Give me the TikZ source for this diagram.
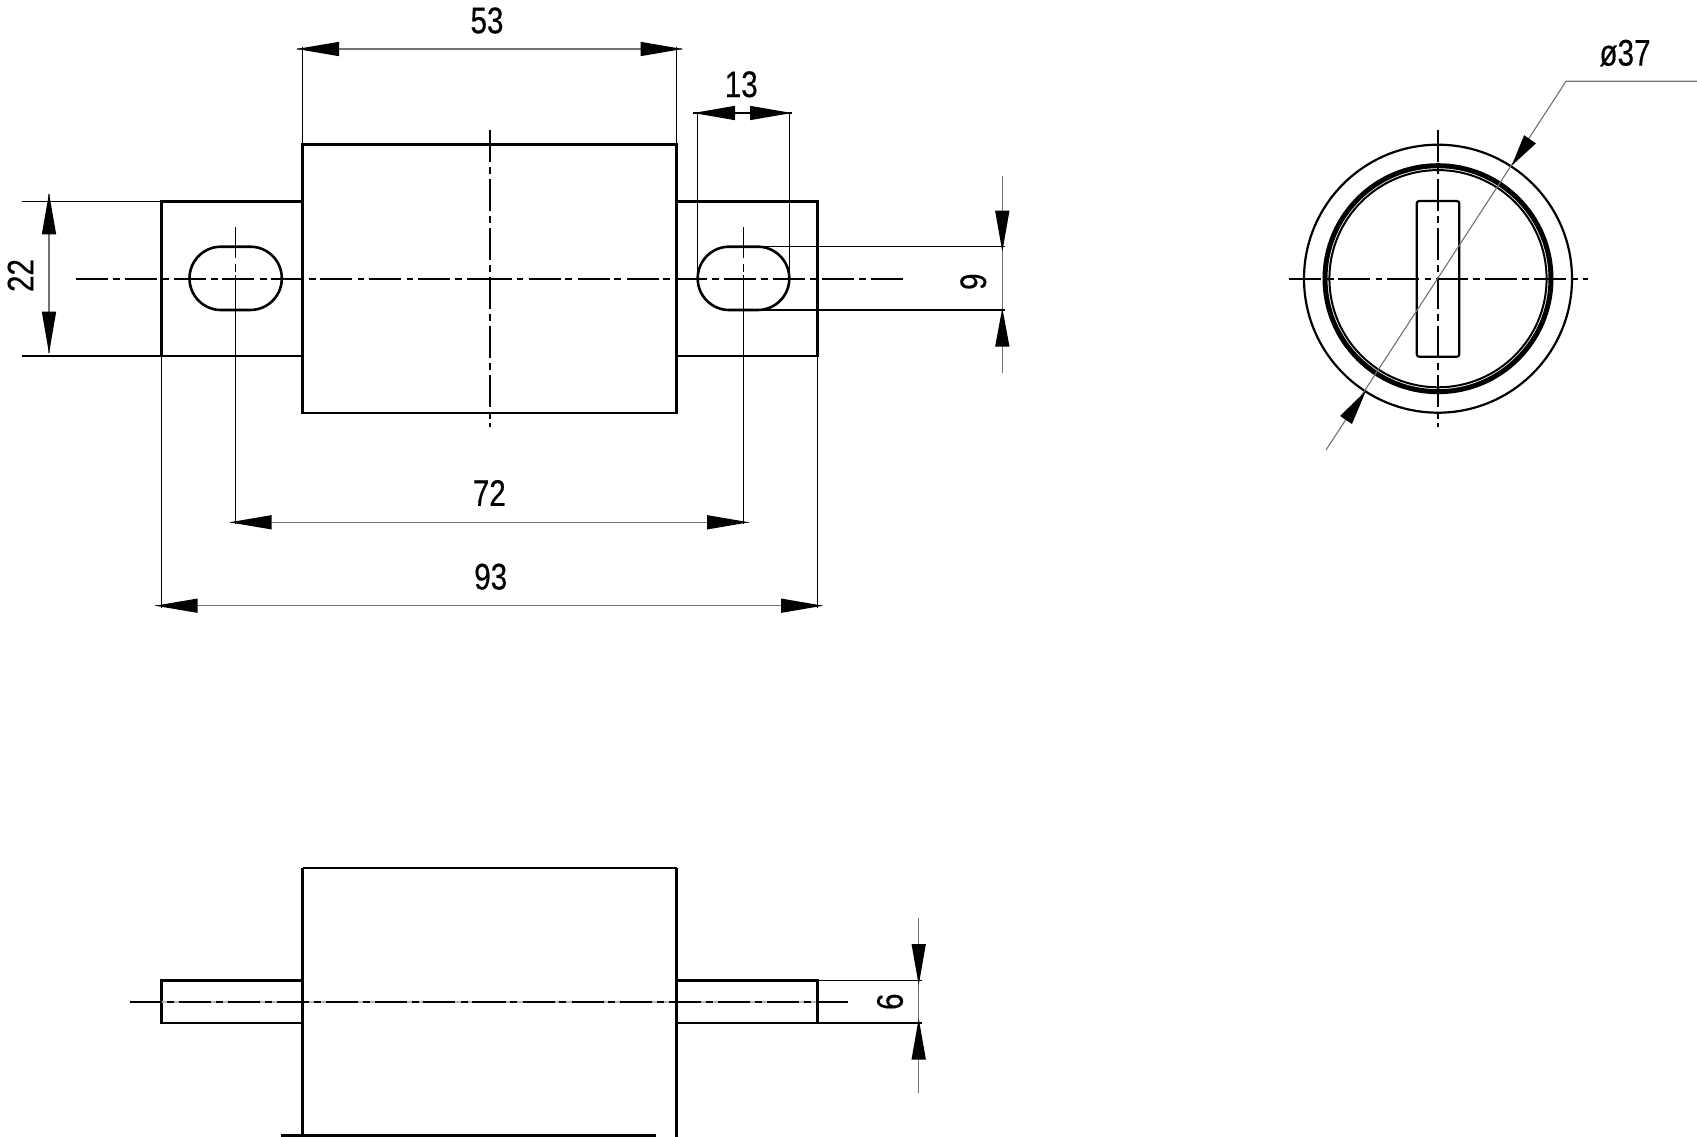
\documentclass[tikz,border=0pt]{standalone}
\usepackage{fontspec}
\setmainfont{Liberation Sans}
\newfontfamily\dimfont[FakeStretch=0.8,FakeBold=0.35]{Liberation Sans}
\usetikzlibrary{calc}
\newcommand\dimtip[2]{\fill[black] (#1) -- ($(#2)!7.2pt!90:(#1)$) -- ($(#2)!7.2pt!-90:(#1)$) -- cycle;}
\tikzset{
  outline/.style={line width=2.6pt,line join=miter},
  extline/.style={line width=1.4pt,black},
  dimline/.style={line width=1.1pt,black!55},
  centerline/.style={line width=1.6pt,dash pattern=on 32pt off 5.4pt on 6.8pt off 4.7pt},
  topcenter/.style={line width=1.8pt,dash pattern=on 32pt off 5.4pt on 6.8pt off 4.7pt},
  topunder/.style={line width=1.6pt,black!28},
  dimtext/.style={inner sep=0pt,font=\dimfont\fontsize{37}{37}\selectfont},
}
\begin{document}
\begin{tikzpicture}[x=1pt,y=-1pt]
\fill[white] (0,0) rectangle (1697,1137);
\useasboundingbox (0,0) rectangle (1697,1137);

% ---- front view: extension lines
\draw[extline] (302.7,47) -- (302.7,145);
\draw[extline] (676.7,47) -- (676.7,145);
\draw[extline] (22,201.3) -- (162,201.3);
\draw[extline] (22,356) -- (162,356);
\draw[extline] (697.7,113) -- (697.7,279);
\draw[extline] (789.3,113) -- (789.3,279);
\draw[extline] (763,246.7) -- (1005,246.7);
\draw[extline] (763,310) -- (1005,310);
\draw[extline] (161.7,356) -- (161.7,608);
\draw[extline] (817.7,356) -- (817.7,608);

% ---- front view: slot centre lines
\foreach \cx in {235.7,743.7}{
  \draw[extline] (\cx,227) -- (\cx,258);
  \draw[extline] (\cx,263.5) -- (\cx,271.5);
  \draw[extline] (\cx,275) -- (\cx,524);
}

% ---- front view: outlines
\draw[outline] (302.5,144.7) rectangle (676.7,413);
\draw[outline] (302.5,201.3) -- (161.7,201.3) -- (161.7,356) -- (302.5,356);
\draw[outline] (676.7,201.3) -- (817.7,201.3) -- (817.7,356) -- (676.7,356);
\draw[outline,rounded corners=31.5pt] (189.5,246.7) rectangle (281.8,310);
\draw[outline,rounded corners=31.5pt] (697.7,246.7) rectangle (789.3,310);

% ---- front view: centre lines (the pattern runs in from both ends)
\coordinate (midH) at (489.7,279);
\draw[centerline] (75.7,279) -- (midH);
\draw[centerline] (903,279) -- (midH);
\draw[centerline] (489.7,130) -- (489.7,427.3);

% ---- dimension lines
\draw[dimline] (297,49) -- (682,49);
\dimtip{296.7,49}{339,49} \dimtip{682.5,49}{640.5,49}
\node[dimtext] (d53) at (487,20.5) {53};

\draw[dimline] (735,113) -- (750,113);
\draw[extline] (693,113) -- (792,113);
\dimtip{693.3,113}{735,113} \dimtip{791.7,113}{750,113}
\node[dimtext] (d13) at (741.3,84.3) {13};

\draw[dimline] (49,194) -- (49,353);
\dimtip{49,193.3}{49,234.3} \dimtip{49,353.3}{49,311.7}
\node[dimtext,rotate=90] (d22) at (20.5,275.5) {22};

\draw[dimline] (1002.3,176) -- (1002.3,372.7);
\dimtip{1002.3,251.7}{1002.3,210.7} \dimtip{1002.3,308}{1002.3,346.7}
\node[dimtext,rotate=90] (d9) at (973.3,281.7) {9};

\draw[dimline] (229.5,522.3) -- (748.5,522.3);
\dimtip{229.3,522.3}{271.7,522.3} \dimtip{749,522.3}{707,522.3}
\node[dimtext] (d72) at (489.3,493) {72};

\draw[dimline] (155,605.7) -- (822,605.7);
\dimtip{155,605.7}{197.7,605.7} \dimtip{823,605.7}{781,605.7}
\node[dimtext] (d93) at (490.7,576.7) {93};

% ---- end view
\draw[line width=2.2pt] (1438,278.7) circle (134);
\draw[line width=5pt] (1438,278.7) circle (113);
\draw[line width=2pt] (1438,278.7) circle (108.6);
\draw[line width=2.2pt,rounded corners=2.5pt] (1416.7,201) rectangle (1459.3,356.7);
\draw[centerline] (1289.3,278.7) -- (1587.7,278.7);
\draw[centerline] (1438,130) -- (1438,427.3);
\draw[dimline] (1326,450) -- (1566,81.3) -- (1697,81.3);
\dimtip{1511.7,165.7}{1530,139.3} \dimtip{1366,390.7}{1346,420}
\node[dimtext] (dphi) at (1625,53) {ø37};

% ---- top view
\draw[extline] (817.7,980.7) -- (921.7,980.7);
\draw[extline] (817.7,1023) -- (921.7,1023);
\draw[outline] (302.5,868) -- (676.7,868);
\draw[outline] (302.5,868) -- (302.5,1137);
\draw[outline] (676.7,868) -- (676.7,1137);
\draw[outline] (302.5,980.7) -- (161.7,980.7) -- (161.7,1023) -- (302.5,1023);
\draw[outline] (676.7,980.7) -- (817.7,980.7) -- (817.7,1023) -- (676.7,1023);
\draw[outline] (281,1135.7) -- (656,1135.7);
\coordinate (midT) at (489.7,1001.7);
\draw[topunder] (130,1001.7) -- (848,1001.7);
\draw[topcenter] (130,1001.7) -- (midT);
\draw[topcenter] (848,1001.7) -- (midT);
\draw[dimline] (918.7,918) -- (918.7,1093);
\dimtip{918.7,985}{918.7,944} \dimtip{918.7,1018.5}{918.7,1059.5}
\node[dimtext,rotate=90] (d6) at (890,1001.7) {6};
\end{tikzpicture}
\end{document}
